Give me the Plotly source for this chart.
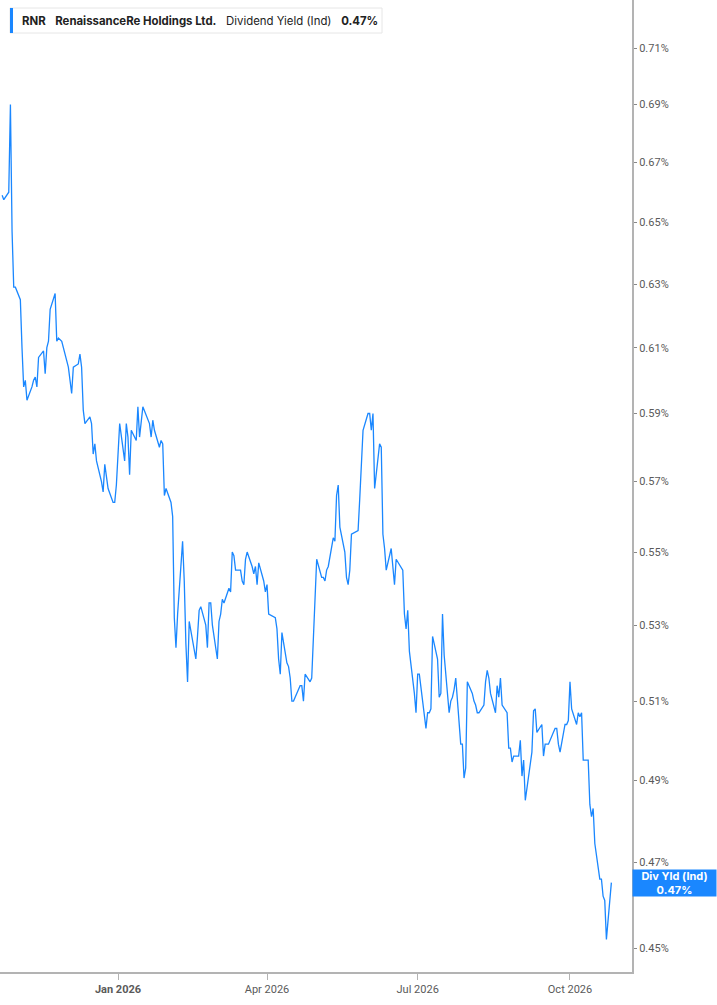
import math
import pandas as pd
import plotly.graph_objects as go

# ---- data ----
ticker = "RNR"
company = "RenaissanceRe Holdings Ltd."
metric = "Dividend Yield (Ind)"
short_metric = "Div Yld (Ind)"

end_date = "2026-10-26"
market_holidays = ["2025-11-27", "2025-12-25", "2026-01-01", "2026-01-19", "2026-02-16",
                   "2026-04-03", "2026-05-25", "2026-06-19", "2026-07-03", "2026-09-07"]

yield_pct = [
    0.659, 0.6575, 0.660, 0.690, 0.647, 0.629, 0.629, 0.625, 0.610, 0.598,
    0.600, 0.594, 0.598, 0.600, 0.601, 0.598, 0.607, 0.609, 0.602, 0.610,
    0.612, 0.622, 0.627, 0.612, 0.613, 0.612, 0.606, 0.604, 0.600, 0.596,
    0.604, 0.605, 0.608, 0.604, 0.591, 0.587, 0.589, 0.587, 0.578, 0.581,
    0.576, 0.570, 0.567, 0.575, 0.568, 0.564, 0.564, 0.569, 0.587, 0.576,
    0.587, 0.583, 0.572, 0.585, 0.582, 0.592, 0.583, 0.588, 0.592, 0.587,
    0.583, 0.588, 0.585, 0.580, 0.582, 0.581, 0.566, 0.568, 0.564, 0.560,
    0.532, 0.524, 0.533, 0.553, 0.542, 0.525, 0.515, 0.531, 0.521, 0.527,
    0.534, 0.535, 0.530, 0.524, 0.536, 0.536, 0.530, 0.521, 0.531, 0.533,
    0.537, 0.536, 0.540, 0.539, 0.550, 0.549, 0.545, 0.545, 0.542, 0.541,
    0.548, 0.550, 0.546, 0.544, 0.546, 0.541, 0.547, 0.542, 0.539, 0.541,
    0.533, 0.532, 0.529, 0.521, 0.517, 0.528, 0.520, 0.519, 0.516, 0.510,
    0.510, 0.513, 0.514, 0.514, 0.510, 0.517, 0.515, 0.516, 0.526, 0.534,
    0.548, 0.543, 0.543, 0.542, 0.545, 0.546, 0.554, 0.553, 0.566, 0.569,
    0.557, 0.550, 0.543, 0.541, 0.545, 0.555, 0.556, 0.565, 0.575, 0.585,
    0.590, 0.590, 0.585, 0.590, 0.568, 0.581, 0.580, 0.555, 0.551, 0.545,
    0.551, 0.546, 0.541, 0.548, 0.545, 0.533, 0.529, 0.534, 0.523, 0.512,
    0.507, 0.517, 0.517, 0.503, 0.507, 0.507, 0.508, 0.527, 0.521, 0.511,
    0.512, 0.533, 0.522, 0.507, 0.510, 0.511, 0.513, 0.516, 0.499, 0.499,
    0.4905, 0.493, 0.515, 0.512, 0.510, 0.509, 0.507, 0.507, 0.509, 0.515,
    0.518, 0.516, 0.512, 0.507, 0.514, 0.511, 0.516, 0.509, 0.507, 0.498,
    0.498, 0.4945, 0.496, 0.496, 0.500, 0.491, 0.495, 0.485, 0.497, 0.5075,
    0.508, 0.502, 0.504, 0.496, 0.499, 0.499, 0.499, 0.502, 0.503, 0.503,
    0.499, 0.497, 0.504, 0.504, 0.505, 0.515, 0.508, 0.504, 0.507, 0.506,
    0.507, 0.495, 0.495, 0.484, 0.481, 0.483, 0.4745, 0.466, 0.466, 0.462,
    0.461, 0.452, 0.4652,
]

y_tick_values = [0.45, 0.47, 0.49, 0.51, 0.53, 0.55, 0.57, 0.59, 0.61, 0.63, 0.65, 0.67, 0.69, 0.71]
x_tick_dates = ["2026-01-01", "2026-04-01", "2026-07-01", "2026-10-01"]
x_tick_labels = ["<b>Jan 2026</b>", "Apr 2026", "Jul 2026", "Oct 2026"]
x_range = ["2025-10-21 17:00", "2026-11-07 11:00"]
y_range = [0.4446, 0.7275]

dates = pd.bdate_range(end=end_date, periods=len(yield_pct), freq="C", holidays=market_holidays)

BLUE = "#1a87ff"
AXIS = "#b3b3b3"
TXT = "#5a5a5a"

fig = go.Figure()
fig.add_trace(go.Scatter(
    x=dates, y=yield_pct, mode="lines",
    line=dict(color=BLUE, width=1.3),
    hoverinfo="skip", showlegend=False,
))

fig.update_layout(
    width=717, height=1005,
    margin=dict(l=0, r=85, t=0, b=33),
    paper_bgcolor="white", plot_bgcolor="white",
    font=dict(family="Roboto", size=11, color=TXT),
    xaxis=dict(
        type="date", range=x_range,
        tickvals=x_tick_dates, ticktext=x_tick_labels,
        showgrid=False, zeroline=False,
        showline=True, linecolor=AXIS, linewidth=2,
        ticks="outside", ticklen=6, tickcolor=AXIS, tickwidth=1,
        tickfont=dict(family="Roboto", size=11, color=TXT),
    ),
    yaxis=dict(
        type="log", side="right",
        range=[math.log10(y_range[0]), math.log10(y_range[1])],
        tickvals=y_tick_values, ticktext=[f"{v:.2f}%" for v in y_tick_values],
        showgrid=False, zeroline=False,
        showline=True, linecolor=AXIS, linewidth=2,
        ticks="outside", ticklen=3, tickcolor="#888", tickwidth=1,
        tickfont=dict(family="Roboto", size=11, color=TXT),
    ),
)

# header box (top-left)
PW, PH = 632.0, 972.0
def px(xp):
    return xp / PW
def py(yp):
    return 1 - yp / PH

fig.add_shape(type="rect", xref="paper", yref="paper",
              x0=px(10), x1=px(382), y0=py(33), y1=py(8),
              line=dict(color="#e6e6e6", width=1), fillcolor="white", layer="above")
fig.add_shape(type="rect", xref="paper", yref="paper",
              x0=px(10), x1=px(13), y0=py(33), y1=py(8),
              line=dict(width=0), fillcolor=BLUE, layer="above")
last = yield_pct[-1]
fig.add_annotation(
    xref="paper", yref="paper", x=px(20), y=py(20.5), xanchor="left", yanchor="middle",
    showarrow=False,
    text=f"<b>{ticker}</b>&nbsp;&nbsp;&nbsp;<b>{company}</b>&nbsp;&nbsp;&nbsp;{metric}&nbsp;&nbsp;&nbsp;<b>{last:.2f}%</b>",
    font=dict(family="Inter", size=11.4, color="#222"),
)

# last-value label on the right axis
fig.add_annotation(
    xref="paper", yref="y", x=1.0, y=math.log10(last), xanchor="left", yanchor="middle",
    showarrow=False, align="center",
    text=f"<b>{short_metric}</b><br><b>{last:.2f}%</b>",
    font=dict(family="Inter", size=11, color="white"),
    bgcolor=BLUE, width=81, height=24, borderpad=1,
)

fig.write_html("out.html")
